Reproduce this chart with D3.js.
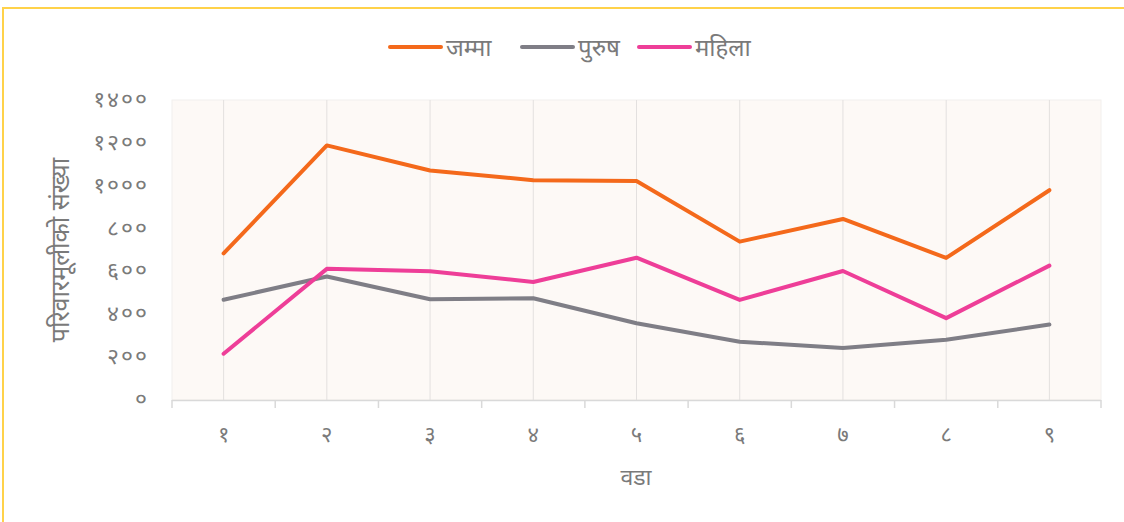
<!DOCTYPE html>
<meta charset="utf-8">
<script src="https://d3js.org/d3.v7.min.js"></script>
<style>
  body { margin: 0; background: #fff; }
  text { font-family: "Noto Sans", "Noto Sans Devanagari", sans-serif; fill: #7a7a7a; }
</style>
<body></body>
<script>
// data
var wards = ["१", "२", "३", "४", "५", "६", "७", "८", "९"];
var male = [468, 576, 470, 475, 358, 272, 243, 281, 352];
var female = [216, 612, 601, 551, 664, 467, 602, 382, 627];
var total = [684, 1188, 1071, 1026, 1022, 739, 845, 663, 979];
var yTicks = [0, 200, 400, 600, 800, 1000, 1200, 1400];
var seriesNames = ["जम्मा", "पुरुष", "महिला"];
var seriesColors = ["#f4691b", "#7f7e86", "#ee3e98"];

var width = 1124, height = 522;
var plot = {left: 172, right: 1101, top: 100, bottom: 400};

var svg = d3.select("body").append("svg")
    .attr("width", width)
    .attr("height", height);

// frame
svg.append("path")
    .attr("d", "M3," + height + "V8H" + width)
    .attr("fill", "none")
    .attr("stroke", "#ffd24a")
    .attr("stroke-width", 2);

var x = d3.scaleBand().domain(wards).range([plot.left, plot.right]);
var y = d3.scaleLinear().domain([0, 1400]).range([plot.bottom, plot.top]);

// plot background
svg.append("rect")
    .attr("x", plot.left).attr("y", plot.top)
    .attr("width", plot.right - plot.left)
    .attr("height", plot.bottom - plot.top)
    .attr("fill", "#fdf9f6")
    .attr("stroke", "#f2efed");

// vertical grid at category centres
svg.selectAll("line.grid").data(wards).enter().append("line")
    .attr("class", "grid")
    .attr("x1", function(d) { return x(d) + x.bandwidth() / 2; })
    .attr("x2", function(d) { return x(d) + x.bandwidth() / 2; })
    .attr("y1", plot.top).attr("y2", plot.bottom)
    .attr("stroke", "#e3e0df").attr("stroke-width", 1);

// x axis line + ticks at band edges
var edges = wards.map(function(d) { return x(d); }).concat([plot.right]);
svg.append("line")
    .attr("x1", plot.left).attr("x2", plot.right)
    .attr("y1", plot.bottom + 0.5).attr("y2", plot.bottom + 0.5)
    .attr("stroke", "#d9d9d9").attr("stroke-width", 1.5);
svg.selectAll("line.tick").data(edges).enter().append("line")
    .attr("class", "tick")
    .attr("x1", function(d) { return d; }).attr("x2", function(d) { return d; })
    .attr("y1", plot.bottom).attr("y2", plot.bottom + 8)
    .attr("stroke", "#d9d9d9").attr("stroke-width", 1.5);

// x labels
svg.selectAll("text.xl").data(wards).enter().append("text")
    .attr("class", "xl")
    .attr("x", function(d) { return x(d) + x.bandwidth() / 2; })
    .attr("y", 442)
    .attr("text-anchor", "middle")
    .attr("font-size", 22)
    .text(function(d) { return d; });

// y labels in Devanagari digits
var deva = "०१२३४५६७८९";
function toDeva(n) { return String(n).replace(/[0-9]/g, function(c) { return deva[+c]; }); }
svg.selectAll("text.yl").data(yTicks).enter().append("text")
    .attr("class", "yl")
    .attr("x", 149)
    .attr("y", function(d) { return y(d) + 7; })
    .attr("text-anchor", "end")
    .attr("font-size", 23)
    .attr("letter-spacing", 2)
    .text(toDeva);

// axis titles
svg.append("text")
    .attr("transform", "translate(69,250) rotate(-90)")
    .attr("text-anchor", "middle")
    .attr("font-size", 25)
    .text("परिवारमूलीको संख्या");
svg.append("text")
    .attr("x", 636).attr("y", 485)
    .attr("text-anchor", "middle")
    .attr("font-size", 23)
    .text("वडा");

// lines
var line = d3.line()
    .x(function(d, i) { return x(wards[i]) + x.bandwidth() / 2; })
    .y(function(d) { return y(d); });
var series = [total, male, female];
series.forEach(function(s, i) {
  svg.append("path")
      .datum(s)
      .attr("d", line)
      .attr("fill", "none")
      .attr("stroke", seriesColors[i])
      .attr("stroke-width", 4)
      .attr("stroke-linejoin", "round")
      .attr("stroke-linecap", "round");
});

// legend
var legendX = [390, 522, 639];
seriesNames.forEach(function(name, i) {
  svg.append("line")
      .attr("x1", legendX[i]).attr("x2", legendX[i] + 51)
      .attr("y1", 47).attr("y2", 47)
      .attr("stroke", seriesColors[i]).attr("stroke-width", 4)
      .attr("stroke-linecap", "round");
  svg.append("text")
      .attr("x", legendX[i] + 56).attr("y", 56)
      .attr("font-size", 24)
      .text(name);
});
</script>
